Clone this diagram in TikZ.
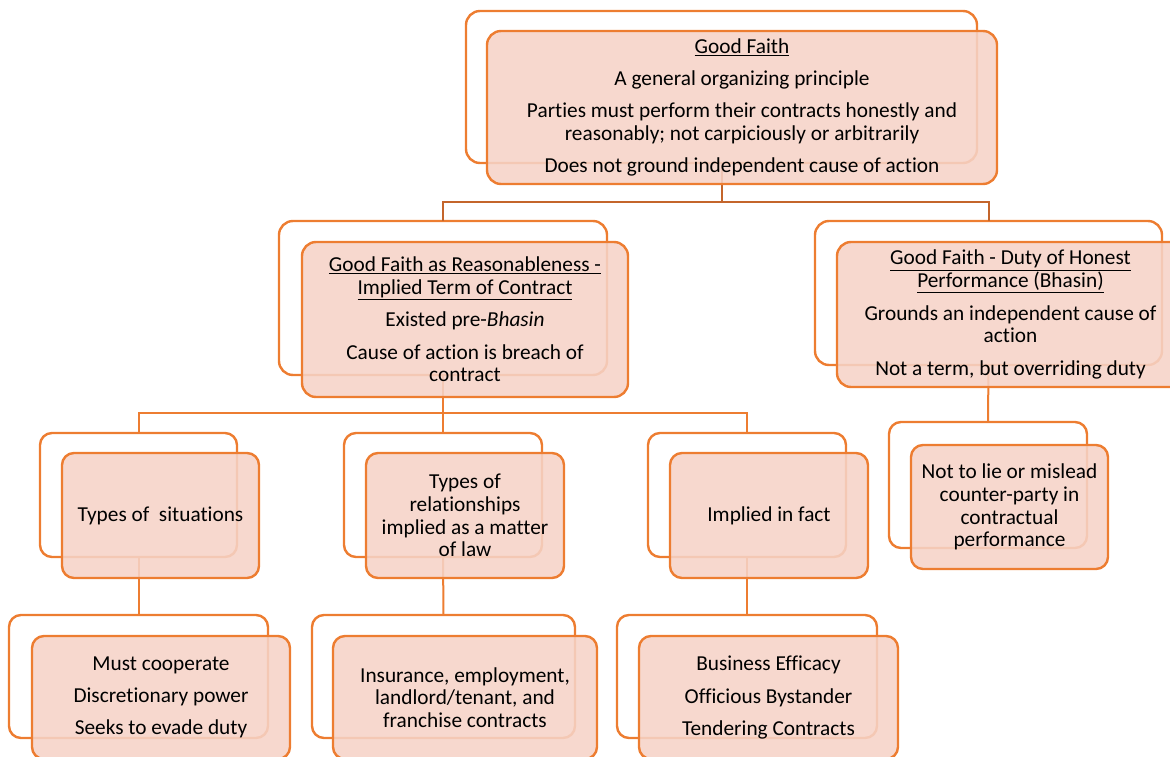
\documentclass[tikz,border=0pt]{standalone}
\usepackage{fontspec}
\setmainfont{Carlito}[Ligatures=CommonOff]
\definecolor{orangeline}{HTML}{ED7D31}
\definecolor{darkline}{HTML}{C4652B}
\definecolor{frontfill}{RGB}{246,211,199}
\begin{document}
\begin{tikzpicture}[x=1pt,y=-1pt,
  backbox/.style={draw=orangeline, line width=2.4pt, rounded corners=#1, inner sep=0pt, outer sep=0pt},
  backbox/.default=14pt,
  frontbox/.style={draw=orangeline, line width=2.4pt, rounded corners=#1, fill=frontfill, fill opacity=0.88, text opacity=1,
    inner sep=0pt, outer sep=0pt, align=center, font=\fontsize{21.3}{22.8}\selectfont},
  frontbox/.default=14pt,
  conn/.style={draw=orangeline, line width=2pt},
  topconn/.style={draw=darkline, line width=2pt}
]
\useasboundingbox (0,0) rectangle (1170,757);
\clip (0,0) rectangle (1170,757);

% back boxes
\node[backbox, minimum width=511pt, minimum height=152pt] (b1) at (721.5,87) {};
\node[backbox, minimum width=328pt, minimum height=154pt] (b2) at (443,298) {};
\node[backbox, minimum width=347pt, minimum height=144pt] (b3) at (988.5,293) {};
\node[backbox=12pt, minimum width=197pt, minimum height=124pt] (c1) at (138.5,495) {};
\node[backbox=12pt, minimum width=198pt, minimum height=124pt] (c2) at (443,495) {};
\node[backbox=12pt, minimum width=198pt, minimum height=124pt] (c3) at (747,495) {};
\node[backbox=12pt, minimum width=198pt, minimum height=126pt] (c4) at (988,485) {};
\node[backbox=12pt, minimum width=259pt, minimum height=123pt] (d1) at (138.5,676.5) {};
\node[backbox=12pt, minimum width=263pt, minimum height=123pt] (d2) at (443.5,676.5) {};
\node[backbox=12pt, minimum width=260pt, minimum height=123pt] (d3) at (747,676.5) {};

% connectors
\coordinate (j1) at (0,202);
\coordinate (j2) at (0,413);
\draw[topconn] (b1.south) -- (b1.south |- j1) -| (b2.north);
\draw[topconn] (b1.south |- j1) -| (b3.north);
\draw[conn] (b2.south) -- (b2.south |- j2) -| (c1.north);
\draw[conn] (b2.south |- j2) -| (c3.north);
\draw[conn] (b2.south) -- (c2.north);
\draw[conn] (b3.south) -- (c4.north);
\draw[conn] (c1.south) -- (d1.north);
\draw[conn] (c2.south) -- (d2.north);
\draw[conn] (c3.south) -- (d3.north);

% front boxes
\node[frontbox, minimum width=510pt, minimum height=153pt] (f1) at (742,107.5)
 {\underline{Good Faith}\\[9.5pt]
  A general organizing principle\\[9.5pt]
  Parties must perform their contracts honestly and\\
  reasonably; not carpiciously or arbitrarily\\[9.5pt]
  Does not ground independent cause of action};
\node[frontbox, minimum width=326pt, minimum height=155pt] (f2) at (465,319.5)
 {\underline{Good Faith as Reasonableness -}\\
  \underline{Implied Term of Contract}\\[9.5pt]
  Existed pre-\textit{Bhasin}\\[9.5pt]
  Cause of action is breach of\\
  contract};
\node[frontbox, minimum width=347pt, minimum height=145pt] (f3) at (1010.5,314.5)
 {\underline{Good Faith - Duty of Honest}\\
  \underline{Performance (Bhasin)}\\[9.5pt]
  Grounds an independent cause of\\
  action\\[9.5pt]
  Not a term, but overriding duty};
\node[frontbox=12pt, minimum width=197pt, minimum height=125pt] (g1) at (160.5,515.5)
 {Types of\ \ situations};
\node[frontbox=12pt, minimum width=198pt, minimum height=125pt] (g2) at (465,515.5)
 {Types of\\ relationships\\ implied as a matter\\ of law};
\node[frontbox=12pt, minimum width=198pt, minimum height=125pt] (g3) at (769,515.5)
 {Implied in fact};
\node[frontbox=12pt, minimum width=197pt, minimum height=124pt] (g4) at (1009.5,507)
 {Not to lie or mislead\\ counter-party in\\ contractual\\ performance};
\node[frontbox=12pt, minimum width=258pt, minimum height=123pt] (h1) at (161,697.5)
 {Must cooperate\\[9.5pt] Discretionary power\\[9.5pt] Seeks to evade duty};
\node[frontbox=12pt, minimum width=264pt, minimum height=123pt] (h2) at (465,697.5)
 {Insurance, employment,\\ landlord/tenant, and\\ franchise contracts};
\node[frontbox=12pt, minimum width=259pt, minimum height=123pt] (h3) at (768.5,697.5)
 {Business Efficacy\\[9.5pt] Officious Bystander\\[9.5pt] Tendering Contracts};
\end{tikzpicture}
\end{document}
